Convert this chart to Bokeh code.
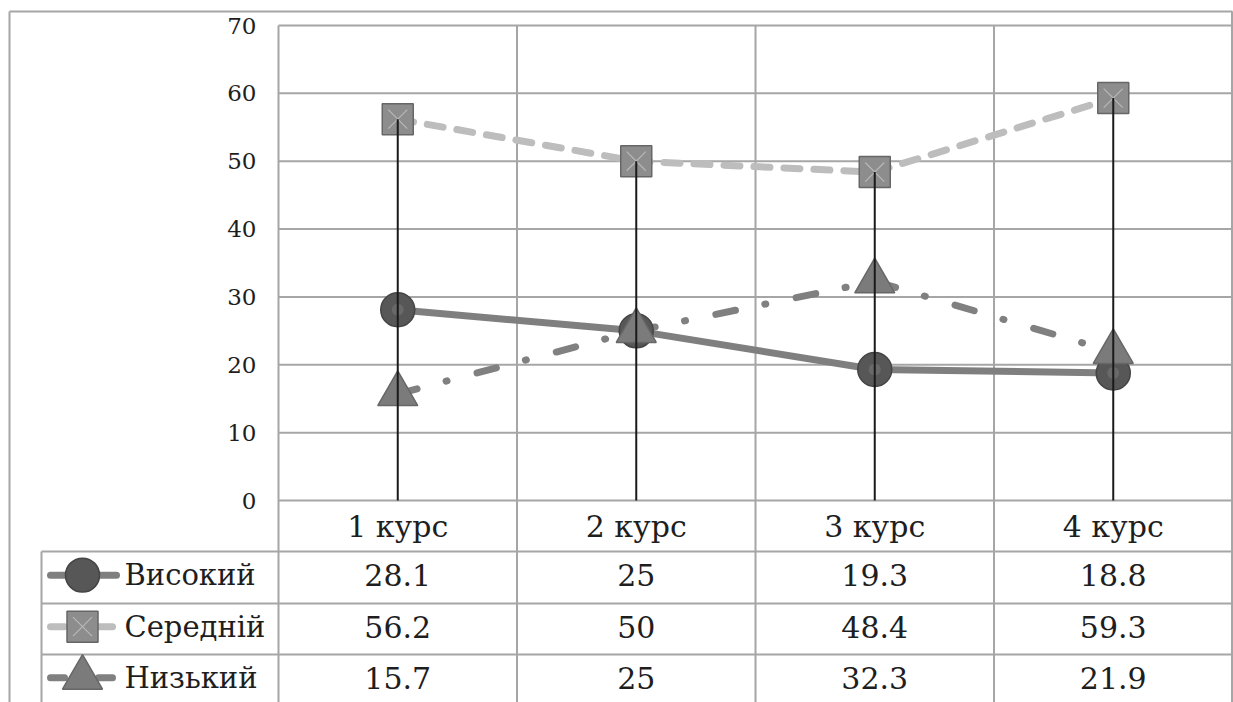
import numpy as np
from bokeh.plotting import figure
from bokeh.models import Range1d
from bokeh.core.properties import value
from bokeh.embed import file_html
from bokeh.resources import INLINE

# ---------------- data ----------------
categories = ["1 курс", "2 курс", "3 курс", "4 курс"]
series_names = ["Високий", "Середній", "Низький"]
vysokyi = [28.1, 25, 19.3, 18.8]
serednii = [56.2, 50, 48.4, 59.3]
nyzkyi = [15.7, 25, 32.3, 21.9]
y_ticks = [0, 10, 20, 30, 40, 50, 60, 70]

# ---------------- geometry helpers ----------------
W, H = 1233, 702
OFF = 0
CAT_PX = 238.5                  # pixels per category
K = 70.0 / 475.0                # value units per pixel
X0 = 0.5 - (278.0 - OFF) / CAT_PX
X1 = X0 + W / CAT_PX
Y1 = 70 + (25 - OFF) * K
Y0 = Y1 - H * K


def xp(page_x):
    return X0 + (page_x - OFF) / CAT_PX


def yp(page_y):
    return Y1 - (page_y - OFF) * K


FONT = value("DejaVu Serif")
GRID = "#a6a6a6"
TXT = "#1e1e1e"

p = figure(width=W, height=H, output_backend="svg", toolbar_location=None,
           x_range=Range1d(X0, X1), y_range=Range1d(Y0, Y1),
           min_border=0, min_border_left=0, min_border_right=0,
           min_border_top=0, min_border_bottom=0)
p.xaxis.visible = False
p.yaxis.visible = False
p.grid.visible = False
p.outline_line_color = None
p.background_fill_color = "white"
p.border_fill_color = "white"

xs = np.arange(1, len(categories) + 1)
top_tick = max(y_ticks)
table_top = yp(551)
row_edges = [yp(551), yp(603), yp(654), yp(705)]
plot_left, plot_right = 0.5, len(categories) + 0.5
table_left = xp(41)
frame_left = xp(9)
frame_top = yp(11)

# outer frame
p.segment(x0=[frame_left, frame_left], y0=[Y0, frame_top], x1=[frame_left, plot_right],
          y1=[frame_top, frame_top], line_color=GRID, line_width=2)
# horizontal grid lines
p.segment(x0=[plot_left] * len(y_ticks), y0=y_ticks, x1=[plot_right] * len(y_ticks),
          y1=y_ticks, line_color=GRID, line_width=2)
# vertical category boundaries
bounds = np.arange(0.5, len(categories) + 1, 1.0)
p.segment(x0=bounds[:-1], y0=[top_tick] * (len(bounds) - 1), x1=bounds[:-1],
          y1=[Y0] * (len(bounds) - 1), line_color=GRID, line_width=2)
p.segment(x0=[plot_right], y0=[frame_top], x1=[plot_right], y1=[Y0],
          line_color=GRID, line_width=3)
# table rules
p.segment(x0=[table_left] * 3, y0=row_edges[:3], x1=[plot_right] * 3, y1=row_edges[:3],
          line_color=GRID, line_width=2)
p.segment(x0=[table_left], y0=[table_top], x1=[table_left], y1=[Y0],
          line_color=GRID, line_width=2)

# ---------------- series ----------------
styles = [
    dict(vals=vysokyi, color="#7f7f7f", dash="solid", marker="circle", size=34,
         mfill="#575757", mline="#454545"),
    dict(vals=serednii, color="#bdbdbd", dash="16 14", marker="square", size=31,
         mfill="#8d8d8d", mline="#666666"),
    dict(vals=nyzkyi, color="#808080", dash="20 30 1 31", marker="triangle", size=40,
         mfill="#7b7b7b", mline="#676767"),
]

for s in styles:
    p.line(xs, s["vals"], line_color=s["color"], line_width=7, line_dash=s["dash"],
           line_cap="round", line_join="round")

for s in styles:
    p.scatter(xs, s["vals"], marker=s["marker"], size=s["size"], fill_color=s["mfill"],
              line_color=s["mline"], line_width=1.5)
    if s["marker"] == "square":
        p.scatter(xs, s["vals"], marker="x", size=s["size"] - 4, line_color="#b8b8b8",
                  line_width=1.2)
    if s["marker"] == "circle":
        p.scatter(xs, s["vals"], marker="circle", size=12, fill_color="#6e6e6e",
                  line_color=None, fill_alpha=0.8)

# drop lines from the highest value to the axis
tops = np.max(np.array([vysokyi, serednii, nyzkyi]), axis=0)
p.segment(x0=xs, y0=[0] * len(xs), x1=xs, y1=tops, line_color="#1a1a1a", line_width=2)

# ---------------- texts ----------------
p.text(x=[xp(256)] * len(y_ticks), y=y_ticks, text=[str(t) for t in y_ticks],
       text_font=FONT, text_font_size=value("23px"), text_color=TXT,
       text_align="right", text_baseline="middle")
p.text(x=xs, y=[(0 + table_top) / 2] * len(xs), text=categories, text_font=FONT,
       text_font_size=value("30px"), text_color=TXT, text_align="center",
       text_baseline="middle")

all_vals = [vysokyi, serednii, nyzkyi]
for i, (name, vals, s) in enumerate(zip(series_names, all_vals, styles)):
    yc = (row_edges[i] + row_edges[i + 1]) / 2 + 0.35
    p.text(x=xs, y=[yc] * len(xs), text=[f"{v:g}" for v in vals], text_font=FONT,
           text_font_size=value("30px"), text_color=TXT, text_align="center",
           text_baseline="middle")
    p.line([xp(50), xp(116)], [yc, yc], line_color=s["color"], line_width=7,
           line_dash=s["dash"] if s["dash"] == "solid" else "14 10",
           line_cap="round")
    p.scatter([xp(82)], [yc], marker=s["marker"], size=s["size"], fill_color=s["mfill"],
              line_color=s["mline"], line_width=1.5)
    if s["marker"] == "square":
        p.scatter([xp(82)], [yc], marker="x", size=s["size"] - 4, line_color="#b8b8b8",
                  line_width=1.2)
    p.text(x=[xp(124)], y=[yc], text=[name], text_font=FONT,
           text_font_size=value("29px"), text_color=TXT, text_align="left",
           text_baseline="middle")

open("out.html", "w").write(file_html(p, INLINE))
